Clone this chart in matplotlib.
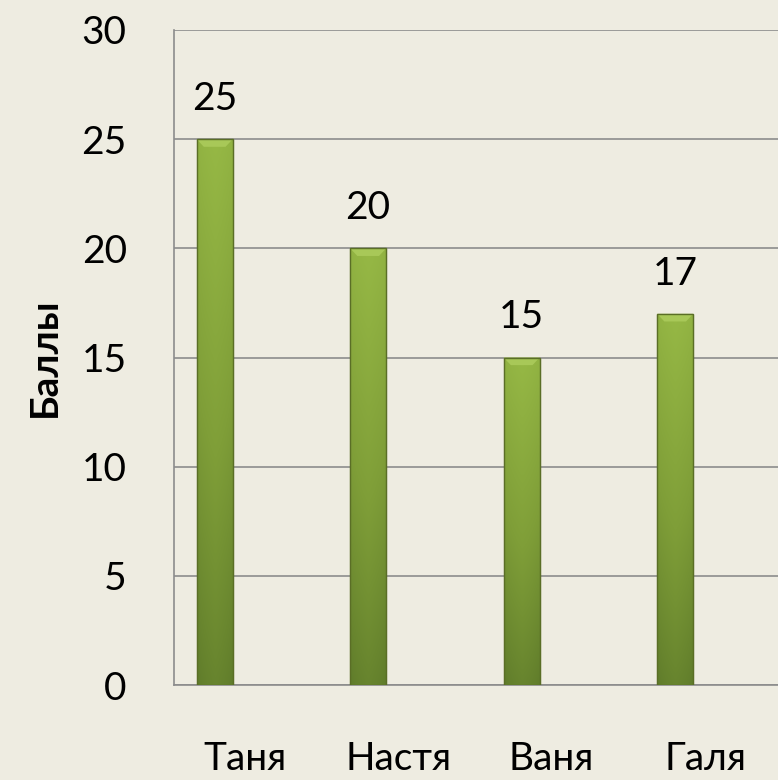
import matplotlib
matplotlib.use("Agg")
import matplotlib.pyplot as plt
import numpy as np
from matplotlib.colors import LinearSegmentedColormap

categories = ["Таня", "Настя", "Ваня", "Галя"]
values = [25, 20, 15, 17]
yticks = [0, 5, 10, 15, 20, 25, 30]
ylabel = "Баллы"

plt.rcParams['font.family'] = ['Lato', 'DejaVu Sans']
bg = "#EEECE1"

fig = plt.figure(figsize=(7.78, 7.80), dpi=100, facecolor=bg)
ax = fig.add_axes([174/778, 95/780, 614/778, 655/780])
ax.set_facecolor(bg)

x = np.arange(len(categories))
bw = 0.235
bars = ax.bar(x - bw, values, width=bw, color="#7E9B3A", edgecolor="#5F7428", linewidth=0.8, zorder=3)

ax.set_xlim(-0.5, len(categories) - 0.5)
ax.set_ylim(0, 30)

# gradient overlay
cmap_v = LinearSegmentedColormap.from_list("g", ["#5E7A2A", "#7F9E38", "#96B845"])
ny, nx = 64, 32
yy = np.linspace(0, 1, ny)[:, None]
xx = np.linspace(-1, 1, nx)[None, :]
grad = yy * 0.85 + 0.15 * (1 - np.abs(xx)) ** 0.5
for b in bars:
    x0, w, h = b.get_x(), b.get_width(), b.get_height()
    im = ax.imshow(grad, cmap=cmap_v, vmin=0, vmax=1, origin="lower", aspect="auto",
                   extent=[x0, x0 + w, 0, h], zorder=3.5, interpolation="bicubic")
    im.set_clip_path(b)
    # bevel top highlight
    ax.fill([x0, x0 + w, x0 + w * 0.8, x0 + w * 0.2], [h, h, h - 0.35, h - 0.35],
            color="#A8C858", zorder=4, linewidth=0)
    ax.bar(x0 + w / 2, h, width=w, fill=False, edgecolor="#5A6E26", linewidth=1.0, zorder=5)

for xi, v in zip(x - bw, values):
    ax.annotate(str(v), (xi, v), xytext=(0, 16), textcoords="offset points",
                ha="center", va="bottom", fontsize=28, color="black")

ax.set_yticks(yticks)
ax.set_yticklabels([str(t) for t in yticks], fontsize=28)
ax.set_xticks(x - 0.04)
ax.set_xticklabels(categories, fontsize=28)
ax.tick_params(axis="y", length=0, pad=34)
ax.tick_params(axis="x", length=0, pad=40)
ax.grid(axis="y", color="#8C8C8C", linewidth=1.2, zorder=0)
ax.set_axisbelow(True)
for s in ["top", "right"]:
    ax.spines[s].set_visible(False)
for s in ["left", "bottom"]:
    ax.spines[s].set_color("#8C8C8C")
    ax.spines[s].set_linewidth(1.2)
ax.set_ylabel(ylabel, fontsize=28, fontweight="bold", labelpad=14)

fig.savefig("out.png", dpi=100, facecolor=bg)
